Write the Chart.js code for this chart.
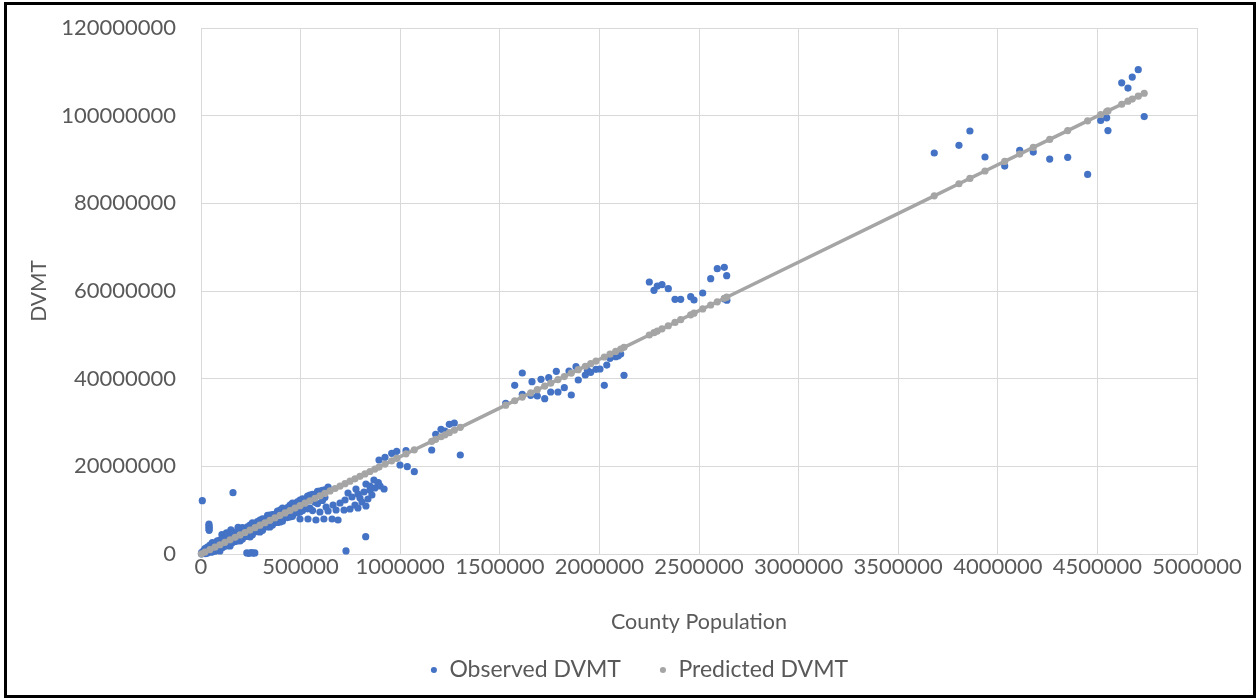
<!DOCTYPE html>
<html>
<head>
<meta charset="utf-8">
<title>DVMT vs County Population</title>
<script src="https://cdn.jsdelivr.net/npm/chart.js@4.4.1/dist/chart.umd.min.js"></script>
<style>
  html, body { margin: 0; padding: 0; background: #fff; }
  #wrap { position: relative; width: 1257px; height: 700px; }
  #frame { position: absolute; left: 4px; top: 2px; width: 1246px; height: 690px; border: 3px solid #000; pointer-events: none; }
</style>
</head>
<body>
<div id="wrap">
  <canvas id="chart" width="1257" height="700"></canvas>
  <div id="frame"></div>
</div>
<script>
// County population (persons) and observed daily vehicle miles travelled
const observedPopulation = [
  2000, 3000, 5000, 6500, 7000, 9000, 11000, 13000, 15000, 17000,
  20000, 21000, 24000, 27000, 30000, 33000, 36000, 40000, 40000, 41000,
  40000, 41000, 45000, 50000, 58000, 70000, 70000, 82000, 95000, 95000,
  105000, 120000, 120000, 128000, 146000, 146000, 150000, 160600, 171000, 171000,
  186000, 196000, 196000, 221000, 221000, 230000, 240000, 246000, 246000, 252000,
  262000, 270000, 271000, 271000, 296000, 296000, 321000, 321000, 346000, 346000,
  371000, 371000, 397000, 397000, 422000, 422000, 447000, 447000, 472000, 472000,
  497000, 497000, 497000, 522000, 522000, 537000, 547000, 547000, 560000, 572000,
  572000, 577000, 597000, 597000, 617000, 622000, 622000, 628000, 638000, 638000,
  658000, 663000, 678000, 688000, 698000, 718000, 723000, 727900, 738000, 748000,
  758000, 773000, 778000, 788000, 788000, 798000, 808000, 818000, 826800, 828000,
  828000, 838000, 848000, 848000, 858000, 868000, 873000, 889000, 890000, 899000,
  919000,
  32000, 32000, 57000, 57000, 82000, 82000, 108000, 108000, 133000, 133000,
  158000, 158000, 183000, 183000, 208000, 208000, 233000, 233000, 258000, 258000,
  283000, 283000, 309000, 309000, 334000, 334000, 359000, 359000, 384000, 384000,
  409000, 409000, 434000, 434000, 459000, 459000, 484000, 484000, 510000, 510000,
  535000, 535000, 560000, 585000, 585000, 610000, 610000,
  893600, 923700, 957300, 982400, 999000, 1029100, 1035600, 1070800, 1158100, 1178200,
  1204800, 1224900, 1246500, 1271600, 1301700,
  1529600, 1574800, 1612900, 1612900, 1655100, 1661600, 1688300, 1706800, 1725400, 1745500,
  1755500, 1783600, 1792100, 1823800, 1847400, 1858900, 1882500, 1894000, 1929200, 1940000,
  1956300, 1982900, 2003000, 2024600, 2037000, 2053200, 2081800, 2095000, 2106900, 2123500,
  2250500, 2274000, 2290600, 2314200, 2345800, 2379500, 2408000, 2458300, 2474900, 2518500,
  2558700, 2591800, 2627000, 2639000, 2628000, 2640000,
  3681000, 3805000, 3860000, 3935700, 4034600, 4110000, 4178000, 4260500, 4351000, 4451000,
  4516500, 4546600, 4553000, 4622000, 4653500, 4675000, 4705000, 4735000
];
const observedDvmt = [
  50000, 300000, 100000, 12160000, 450000, 150000, 600000, 250000, 800000, 350000,
  1250000, 100000, 550000, 950000, 300000, 1150000, 500000, 6800000, 6400000, 6100000,
  5700000, 5400000, 2050000, 400000, 1700000, 2350000, 640000, 2900000, 3190000, 680000,
  4400000, 3470000, 1760000, 4800000, 4330000, 1830000, 5500000, 13990000, 4590000, 2870000,
  6100000, 5480000, 2970000, 5700000, 3990000, 250000, 150000, 6620000, 3880000, 300000,
  200000, 250000, 6820000, 5110000, 7760000, 5020000, 7940000, 6230000, 8900000, 6160000,
  9030000, 7320000, 10040000, 7300000, 10150000, 8440000, 11180000, 8440000, 11270000, 9560000,
  12320000, 9580000, 7980000, 12390000, 10950000, 7980000, 13460000, 10490000, 9900000, 13510000,
  11790000, 7760000, 14370000, 9580000, 7980000, 14620000, 12910000, 10720000, 15290000, 9810000,
  7980000, 11180000, 10040000, 7760000, 11630000, 10040000, 12320000, 700000, 13920000, 10270000,
  13000000, 11180000, 14830000, 10490000, 13690000, 12780000, 11860000, 14140000, 3950000, 10950000,
  15970000, 12550000, 14600000, 15510000, 13460000, 16880000, 15060000, 15970000, 16270000, 15510000,
  14830000,
  1600000, 200000, 2600000, 500000, 3000000, 900000, 3400000, 1500000, 4400000, 1900000,
  4600000, 2600000, 5300000, 3000000, 6000000, 3400000, 6200000, 4100000, 7100000, 4400000,
  7400000, 5100000, 8000000, 5400000, 8800000, 6200000, 9000000, 6600000, 9800000, 7200000,
  10500000, 7500000, 10600000, 8300000, 11600000, 8600000, 11900000, 9400000, 12600000, 9900000,
  13200000, 10300000, 13600000, 14300000, 11500000, 14500000, 12200000,
  21440000, 22060000, 22970000, 23430000, 20300000, 23570000, 19920000, 18780000, 23730000, 27310000,
  28450000, 28060000, 29590000, 29890000, 22590000,
  34380000, 38490000, 41290000, 36430000, 36210000, 39310000, 36050000, 39860000, 35430000, 40220000,
  36960000, 41680000, 36960000, 37940000, 41750000, 36270000, 42730000, 39700000, 40840000, 41900000,
  41450000, 42140000, 42200000, 38490000, 43100000, 44650000, 45010000, 45200000, 45630000, 40770000,
  62050000, 60160000, 61140000, 61440000, 60530000, 58110000, 58110000, 58700000, 57950000, 59540000,
  62810000, 65090000, 65410000, 63490000, 58200000, 57900000,
  91480000, 93240000, 96500000, 90570000, 88500000, 92100000, 91700000, 90100000, 90500000, 86600000,
  98900000, 99500000, 96600000, 107500000, 106300000, 108800000, 110500000, 99800000
];

// Model estimates of DVMT, ordered by population
const predictedPopulation = [
  2000, 20000, 45000, 70000, 95000, 120000, 146000, 171000, 196000, 221000,
  246000, 271000, 296000, 321000, 346000, 371000, 397000, 422000, 447000, 472000,
  497000, 522000, 547000, 572000, 597000, 622000, 648000, 673000, 698000, 723000,
  748000, 773000, 798000, 823000, 848000, 873000, 893600, 923700, 957300, 982400,
  1029100, 1070800, 1158100, 1178200, 1204800, 1224900, 1246500, 1271600, 1301700,
  1529600, 1574800, 1612900, 1655100, 1688300, 1725400, 1755500, 1792100, 1823800, 1858900,
  1894000, 1929200, 1956300, 1982900, 2024600, 2053200, 2081800, 2106900, 2123500,
  2250500, 2274000, 2290600, 2314200, 2345800, 2379500, 2408000, 2458300, 2474900, 2518500,
  2558700, 2591800, 2627000, 2639000,
  3681000, 3805000, 3860000, 3935700, 4034600, 4110000, 4178000, 4260500, 4351000, 4451000,
  4516500, 4546600, 4553000, 4622000, 4653500, 4675000, 4705000, 4735000
];
const predictedDvmt = [
  44000, 444000, 999000, 1554000, 2109000, 2664000, 3241000, 3796000, 4351000, 4906000,
  5461000, 6016000, 6571000, 7126000, 7681000, 8236000, 8813000, 9368000, 9923000, 10478000,
  11033000, 11588000, 12143000, 12698000, 13253000, 13808000, 14386000, 14941000, 15496000, 16051000,
  16606000, 17161000, 17716000, 18271000, 18826000, 19381000, 19838000, 20506000, 21252000, 21809000,
  22846000, 23772000, 25710000, 26156000, 26747000, 27193000, 27672000, 28230000, 28898000,
  33957000, 34961000, 35806000, 36743000, 37480000, 38304000, 38972000, 39785000, 40488000, 41268000,
  42047000, 42828000, 43430000, 44020000, 44946000, 45581000, 46216000, 46773000, 47142000,
  49961000, 50483000, 50851000, 51375000, 52077000, 52825000, 53458000, 54574000, 54943000, 55911000,
  56803000, 57538000, 58319000, 58586000,
  81718000, 84471000, 85692000, 87373000, 89568000, 91242000, 92752000, 94583000, 96592000, 98812000,
  100266000, 100935000, 101077000, 102608000, 103308000, 103785000, 104451000, 105117000
];

// Axis ranges and tick spacing
const xTickStep = 500000;
const xMax = 5000000;
const yTickStep = 20000000;
const yMax = 120000000;

const seriesNames = ['Observed DVMT', 'Predicted DVMT'];
const BLUE = '#4472C4';
const GREY = '#A5A5A5';
const TEXT = '#595959';
const GRID = '#D9D9D9';

const toPoints = (xs, ys) => xs.map((x, i) => ({ x, y: ys[i] }));

// Nudges the legend row so it sits centred under the whole figure
const legendShift = {
  id: 'legendShift',
  afterLayout(chart) {
    const lg = chart.legend;
    if (lg) { lg.left += 35.5; lg.right += 35.5; }
  }
};

function build() {
  Chart.defaults.font.family = 'Lato, "Liberation Sans", sans-serif';
  Chart.defaults.color = TEXT;

  new Chart(document.getElementById('chart'), {
    type: 'scatter',
    data: {
      datasets: [
        {
          label: seriesNames[0],
          data: toPoints(observedPopulation, observedDvmt),
          backgroundColor: BLUE,
          borderColor: BLUE,
          borderWidth: 0,
          pointRadius: 3.6,
          pointHoverRadius: 3.6,
          clip: false,
          order: 2
        },
        {
          label: seriesNames[1],
          data: toPoints(predictedPopulation, predictedDvmt),
          showLine: true,
          backgroundColor: GREY,
          borderColor: GREY,
          borderWidth: 3.5,
          pointBackgroundColor: GREY,
          pointBorderWidth: 0,
          pointRadius: 3.6,
          pointHoverRadius: 3.6,
          tension: 0,
          clip: false,
          order: 1
        }
      ]
    },
    options: {
      responsive: false,
      animation: false,
      devicePixelRatio: 1,
      layout: { padding: { left: 10, right: 60, top: 28, bottom: 8.5 } },
      plugins: {
        tooltip: { enabled: false },
        legend: {
          position: 'bottom',
          labels: {
            usePointStyle: true,
            boxWidth: 8,
            boxHeight: 4.3,
            padding: 38,
            color: TEXT,
            font: { size: 23 },
            sort: (a, b) => a.datasetIndex - b.datasetIndex,
            generateLabels: (chart) =>
              Chart.defaults.plugins.legend.labels.generateLabels(chart).map(l => ({
                ...l, lineWidth: 0, strokeStyle: l.fillStyle
              }))
          }
        }
      },
      scales: {
        x: {
          type: 'linear',
          min: 0,
          max: xMax,
          afterFit: (s) => { s.height = 66.5; },
          ticks: {
            stepSize: xTickStep,
            padding: 0,
            color: TEXT,
            font: { size: 22 },
            maxRotation: 0,
            autoSkip: false,
            callback: (v) => String(v)
          },
          grid: { color: GRID, lineWidth: 1, drawTicks: false },
          border: { color: GRID, width: 1 },
          title: {
            display: true,
            text: 'County Population',
            color: TEXT,
            font: { size: 21.5 },
            padding: { top: 0, bottom: -14.4 }
          }
        },
        y: {
          type: 'linear',
          min: 0,
          max: yMax,
          afterFit: (s) => { s.width = 191; },
          ticks: {
            stepSize: yTickStep,
            padding: 5,
            color: TEXT,
            font: { size: 22 },
            callback: (v) => String(v)
          },
          grid: { color: GRID, lineWidth: 1, drawTicks: true, tickLength: 20, tickColor: 'rgba(0,0,0,0)' },
          border: { color: GRID, width: 1 },
          title: {
            display: true,
            text: 'DVMT',
            color: TEXT,
            font: { size: 21 },
            padding: { top: 17, bottom: 0 }
          }
        }
      }
    },
    plugins: [legendShift]
  });
}

if (document.fonts && document.fonts.load) {
  Promise.all([document.fonts.load('22px Lato'), document.fonts.load('21px Lato')])
    .then(build, build);
} else {
  build();
}
</script>
</body>
</html>
